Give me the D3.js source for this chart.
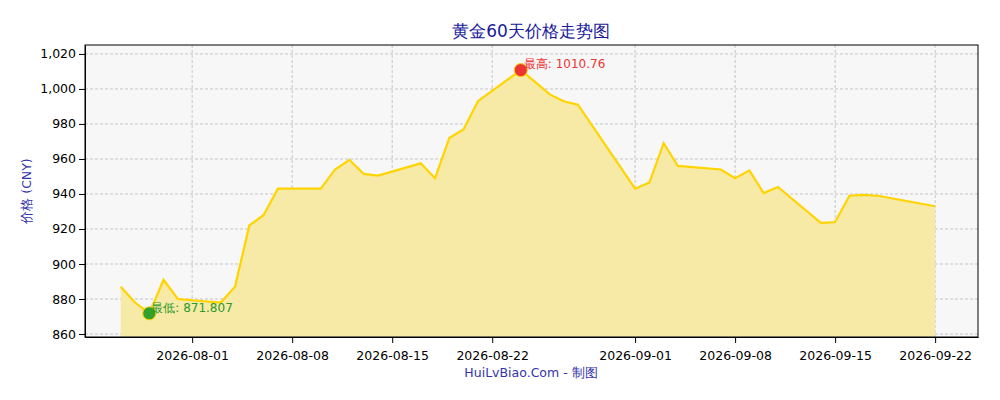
<!DOCTYPE html><html><head><meta charset="utf-8"><script src="https://cdn.jsdelivr.net/npm/d3@7"></script>
<style>body{margin:0;background:#fff}text{font-family:"DejaVu Sans",sans-serif}</style></head><body><svg id="c" width="1000" height="400"></svg><script>
const dates=["2026-07-27","2026-07-28","2026-07-29","2026-07-30","2026-07-31","2026-08-03","2026-08-04","2026-08-05","2026-08-06","2026-08-07","2026-08-10","2026-08-11","2026-08-12","2026-08-13","2026-08-14","2026-08-17","2026-08-18","2026-08-19","2026-08-20","2026-08-21","2026-08-24","2026-08-25","2026-08-26","2026-08-27","2026-08-28","2026-09-01","2026-09-02","2026-09-03","2026-09-04","2026-09-07","2026-09-08","2026-09-09","2026-09-10","2026-09-11","2026-09-14","2026-09-15","2026-09-16","2026-09-17","2026-09-18","2026-09-22"];
const prices=[887,878,871.807,891,880,878,887,922,928,943,943,954,959.5,951.5,950.5,957.5,949,972,977,993,1010.76,1004,997,993,991,943,946.5,969,956,954,949,953.5,940.5,944,923.5,924,939,939.5,939,933];
const xTicks=["2026-08-01","2026-08-08","2026-08-15","2026-08-22","2026-09-01","2026-09-08","2026-09-15","2026-09-22"];
const yTicks=[860,880,900,920,940,960,980,1000,1020];
const P=d3.timeParse("%Y-%m-%d");
const data=dates.map((d,i)=>({d:P(d),v:prices[i]}));
const L=85,R=978,T=45,B=337;
const svg=d3.select("#c");
const x=d3.scaleTime().domain([new Date(2026,6,24,12),new Date(2026,8,25)]).range([L,R]);
const y=d3.scaleLinear().domain([858.3,1025.1]).range([B,T]);
svg.append("rect").attr("x",L).attr("y",T).attr("width",R-L).attr("height",B-T).attr("fill","#f7f7f7");
const g=svg.append("g");
xTicks.forEach(t=>g.append("line").attr("x1",x(P(t))).attr("x2",x(P(t))).attr("y1",T).attr("y2",B).attr("stroke","#b0b0b0").attr("stroke-width",0.7).attr("stroke-dasharray","3,2"));
yTicks.forEach(t=>g.append("line").attr("x1",L).attr("x2",R).attr("y1",y(t)).attr("y2",y(t)).attr("stroke","#b0b0b0").attr("stroke-width",0.7).attr("stroke-dasharray","3,2"));
svg.append("path").datum(data).attr("d",d3.area().x(d=>x(d.d)).y0(B).y1(d=>y(d.v))).attr("fill","#f7e9a6");
svg.append("path").datum(data).attr("d",d3.line().x(d=>x(d.d)).y(d=>y(d.v))).attr("fill","none").attr("stroke","#ffd400").attr("stroke-width",2.2);
const mx=data[20],mn=data[2];
svg.append("circle").attr("cx",x(mx.d)).attr("cy",y(mx.v)).attr("r",6.5).attr("fill","#ee3333").attr("stroke","#ffcc00").attr("stroke-width",1);
svg.append("circle").attr("cx",x(mn.d)).attr("cy",y(mn.v)).attr("r",6.5).attr("fill","#33a02c").attr("stroke","#ffcc00").attr("stroke-width",1);
svg.append("text").attr("x",x(mx.d)+3).attr("y",y(mx.v)-2).attr("font-size",12).attr("fill","#ee3333").text("最高: "+mx.v);
svg.append("text").attr("x",x(mn.d)+2).attr("y",y(mn.v)-1).attr("font-size",12).attr("fill","#2a9a2a").text("最低: "+mn.v);
svg.append("g").attr("transform",`translate(0,${B})`).call(d3.axisBottom(x).tickValues(xTicks.map(P)).tickFormat(d3.timeFormat("%Y-%m-%d")).tickSizeOuter(0)).call(a=>a.selectAll("text").attr("font-size",12.5).attr("fill","#000").attr("dy","1.1em"));
svg.append("g").attr("transform",`translate(${L},0)`).call(d3.axisLeft(y).tickValues(yTicks).tickSizeOuter(0)).call(a=>a.selectAll("text").attr("font-size",12.5).attr("fill","#000"));
svg.append("rect").attr("x",L).attr("y",T).attr("width",R-L).attr("height",B-T).attr("fill","none").attr("stroke","#000");
svg.append("text").attr("x",531).attr("y",37).attr("text-anchor","middle").attr("font-size",17).attr("fill","#1a1a9a").text("黄金60天价格走势图");
svg.append("text").attr("x",531).attr("y",377).attr("text-anchor","middle").attr("font-size",12.5).attr("fill","#3333aa").text("HuiLvBiao.Com - 制图");
svg.append("text").attr("transform","translate(31,191) rotate(-90)").attr("text-anchor","middle").attr("font-size",12.5).attr("fill","#3333aa").text("价格 (CNY)");
</script></body></html>
